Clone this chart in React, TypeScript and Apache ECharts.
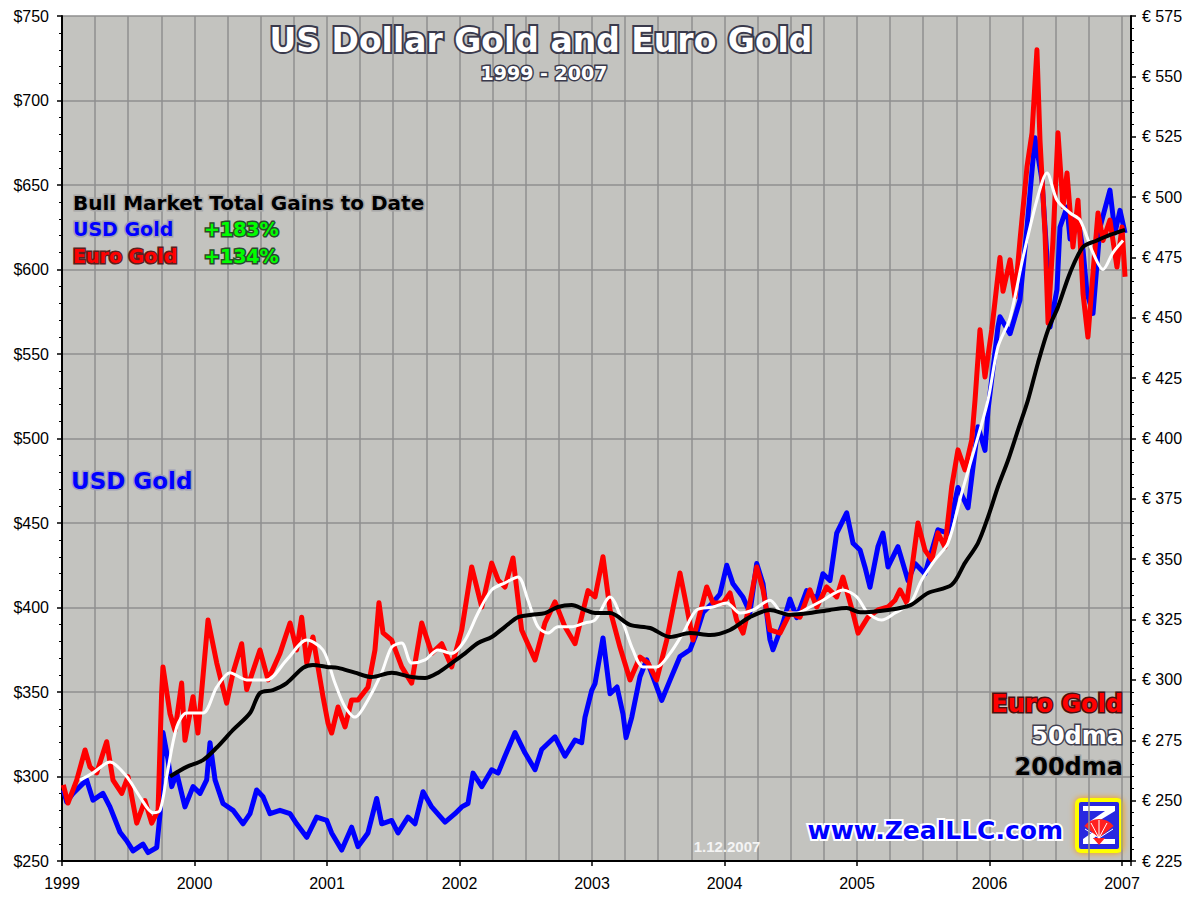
import React, { useEffect, useRef } from 'react';
import * as echarts from 'echarts';

// USD gold price ($, left axis) – [decimal year, value]
const usdGold: [number, number][] = [
  [1999.010, 292], [1999.035, 285], [1999.083, 290], [1999.186, 298], [1999.234, 286], [1999.309, 290],
  [1999.362, 282], [1999.438, 267], [1999.488, 262], [1999.536, 256], [1999.611, 260], [1999.649, 255],
  [1999.715, 258], [1999.740, 278], [1999.762, 326], [1999.800, 310], [1999.828, 294], [1999.866, 302],
  [1999.928, 282], [1999.989, 294], [2000.042, 290], [2000.092, 298], [2000.117, 320], [2000.155, 298],
  [2000.215, 284], [2000.291, 280], [2000.366, 272], [2000.419, 278], [2000.469, 292], [2000.517, 288],
  [2000.570, 278], [2000.645, 280], [2000.721, 278], [2000.771, 272], [2000.847, 264], [2000.922, 276],
  [2000.998, 274], [2001.035, 266.6], [2001.111, 256.5], [2001.186, 270], [2001.234, 258.5], [2001.309, 266.6],
  [2001.375, 287], [2001.413, 272], [2001.488, 274], [2001.536, 266.6], [2001.611, 276], [2001.664, 272],
  [2001.725, 291], [2001.790, 282], [2001.891, 273], [2001.966, 278], [2002.017, 282], [2002.064, 284],
  [2002.102, 302], [2002.168, 294], [2002.243, 304], [2002.291, 302], [2002.343, 312], [2002.419, 326],
  [2002.494, 314], [2002.570, 304], [2002.620, 316], [2002.721, 323.5], [2002.796, 312], [2002.872, 321.6],
  [2002.922, 320], [2002.947, 335], [2002.998, 351], [2003.023, 355], [2003.083, 382], [2003.136, 349],
  [2003.189, 353], [2003.234, 337], [2003.257, 323], [2003.300, 335], [2003.362, 359], [2003.413, 369],
  [2003.488, 353], [2003.526, 345], [2003.589, 357], [2003.664, 371], [2003.740, 375], [2003.790, 385],
  [2003.838, 397], [2003.913, 403], [2003.966, 408], [2004.017, 425], [2004.064, 414], [2004.140, 406],
  [2004.192, 397], [2004.243, 426], [2004.291, 414], [2004.343, 381], [2004.366, 375], [2004.442, 391],
  [2004.494, 405], [2004.545, 394], [2004.620, 410], [2004.696, 405], [2004.743, 420], [2004.796, 416],
  [2004.847, 444], [2004.922, 456], [2004.970, 438], [2005.023, 434], [2005.060, 424], [2005.098, 412],
  [2005.158, 436], [2005.196, 444], [2005.234, 424], [2005.309, 436], [2005.385, 416], [2005.438, 426],
  [2005.513, 420], [2005.611, 446], [2005.687, 444], [2005.762, 471], [2005.838, 459], [2005.913, 507],
  [2005.966, 493], [2005.989, 517], [2006.064, 566], [2006.079, 572], [2006.155, 562], [2006.230, 582],
  [2006.283, 625], [2006.343, 678], [2006.396, 653], [2006.434, 607], [2006.457, 566], [2006.509, 588],
  [2006.532, 625], [2006.585, 637], [2006.608, 618], [2006.660, 633], [2006.706, 611.5], [2006.736, 586],
  [2006.781, 574], [2006.834, 625], [2006.909, 647], [2006.947, 621.6], [2006.985, 635], [2007.023, 621.6],
];

// Euro gold price (€, right axis)
const euroGold: [number, number][] = [
  [1999.010, 256.5], [1999.045, 249], [1999.111, 258.5], [1999.174, 271], [1999.211, 264], [1999.262, 261.5],
  [1999.337, 274.4], [1999.385, 258.5], [1999.451, 253], [1999.498, 260], [1999.564, 240.7], [1999.626, 250],
  [1999.677, 240.7], [1999.725, 246], [1999.752, 294.6], [1999.762, 305.4], [1999.815, 286], [1999.853, 279],
  [1999.903, 298.7], [1999.928, 275], [1999.989, 293], [2000.026, 278], [2000.102, 324.8], [2000.168, 307],
  [2000.243, 290.4], [2000.291, 303], [2000.356, 315], [2000.394, 296], [2000.494, 312.4], [2000.555, 300],
  [2000.645, 311], [2000.721, 323.6], [2000.771, 312.4], [2000.809, 326], [2000.847, 307], [2000.894, 317.8],
  [2000.970, 293], [2001.008, 282], [2001.035, 278], [2001.083, 288.8], [2001.136, 280.5], [2001.186, 291.7],
  [2001.234, 291.7], [2001.309, 297], [2001.362, 312.4], [2001.392, 332], [2001.423, 319.5], [2001.488, 316.5],
  [2001.564, 305.4], [2001.639, 298.7], [2001.715, 323.6], [2001.790, 311], [2001.866, 315], [2001.941, 305.4],
  [2002.017, 320.7], [2002.092, 346.8], [2002.168, 330.2], [2002.243, 348.4], [2002.291, 341.4], [2002.343, 338.5],
  [2002.404, 350.5], [2002.469, 320.7], [2002.570, 308.3], [2002.645, 323.6], [2002.721, 332.3], [2002.796, 322],
  [2002.872, 315], [2002.970, 337], [2003.023, 334.4], [2003.083, 351], [2003.136, 329], [2003.211, 313.6],
  [2003.287, 300], [2003.362, 309.5], [2003.423, 307], [2003.488, 300], [2003.564, 316.5], [2003.664, 344.3],
  [2003.715, 330.2], [2003.762, 316.5], [2003.866, 338.5], [2003.913, 331.9], [2003.989, 331.9], [2004.042, 336],
  [2004.092, 324.8], [2004.140, 319.4], [2004.192, 331.9], [2004.243, 346.8], [2004.291, 337.3], [2004.343, 320.7],
  [2004.419, 319.4], [2004.494, 327.7], [2004.570, 326], [2004.645, 337.3], [2004.696, 330.2], [2004.771, 338.5],
  [2004.847, 334.4], [2004.894, 342.6], [2004.970, 327.7], [2005.008, 319.4], [2005.083, 326], [2005.158, 329],
  [2005.234, 330.2], [2005.287, 333], [2005.325, 337.3], [2005.375, 331.9], [2005.423, 349.7], [2005.460, 365],
  [2005.513, 353.8], [2005.564, 349.7], [2005.611, 360.9], [2005.664, 355], [2005.715, 380], [2005.762, 395.3],
  [2005.815, 387], [2005.866, 399.4], [2005.891, 416], [2005.928, 445], [2005.966, 425.5], [2006.017, 445],
  [2006.042, 457], [2006.079, 475], [2006.102, 461], [2006.155, 474], [2006.192, 458.6], [2006.230, 482],
  [2006.283, 512.5], [2006.321, 526.6], [2006.358, 561], [2006.381, 523.7], [2006.419, 485], [2006.442, 447.8],
  [2006.479, 482], [2006.517, 526.6], [2006.555, 496], [2006.585, 510], [2006.630, 479.3], [2006.668, 498.7],
  [2006.706, 460], [2006.743, 442], [2006.781, 468.6], [2006.819, 493.4], [2006.857, 482], [2006.909, 490.5],
  [2006.962, 471], [2007.000, 487.6], [2007.023, 467],
];

// Euro gold 50-day moving average (€)
const euro50dma: [number, number][] = [
  [1999.136, 258.5], [1999.234, 261.5], [1999.362, 266], [1999.488, 260], [1999.589, 251.5], [1999.687, 245],
  [1999.740, 246], [1999.790, 260], [1999.866, 280.5], [1999.941, 286.3], [2000.064, 286.3], [2000.168, 297],
  [2000.268, 303], [2000.394, 300], [2000.545, 300], [2000.696, 308.3], [2000.847, 316.5], [2000.970, 312.4],
  [2001.060, 298.7], [2001.136, 288.8], [2001.211, 284.6], [2001.309, 291.7], [2001.413, 303], [2001.488, 313.6],
  [2001.564, 315.3], [2001.639, 307], [2001.740, 308.3], [2001.838, 312.4], [2001.941, 311], [2002.042, 316.5],
  [2002.140, 327.7], [2002.243, 337.3], [2002.343, 340.2], [2002.442, 342.6], [2002.517, 333], [2002.592, 322],
  [2002.668, 319.4], [2002.743, 322], [2002.847, 322], [2002.947, 323.6], [2003.023, 324.8], [2003.136, 334.4],
  [2003.234, 323.6], [2003.309, 312.4], [2003.385, 305.4], [2003.488, 305.4], [2003.589, 311], [2003.687, 319.4],
  [2003.790, 329], [2003.913, 330.2], [2004.017, 331.9], [2004.117, 327.7], [2004.215, 329], [2004.343, 333],
  [2004.442, 327.7], [2004.545, 327.7], [2004.645, 330.2], [2004.743, 333], [2004.894, 337.3], [2004.998, 334.4],
  [2005.083, 327.7], [2005.186, 324.8], [2005.287, 327.7], [2005.404, 331.9], [2005.488, 341.4], [2005.589, 349.7],
  [2005.687, 356.7], [2005.790, 377.4], [2005.891, 396.5], [2005.989, 416], [2006.064, 438], [2006.155, 450],
  [2006.253, 475], [2006.358, 498.8], [2006.434, 510], [2006.509, 498.8], [2006.608, 493.4], [2006.683, 490.5],
  [2006.781, 477], [2006.857, 470], [2006.932, 477], [2007.008, 482],
];

// Euro gold 200-day moving average (€)
const euro200dma: [number, number][] = [
  [1999.815, 260], [1999.941, 264], [2000.064, 266.8], [2000.168, 272], [2000.291, 279.3], [2000.419, 286.3],
  [2000.494, 294.6], [2000.592, 295.8], [2000.696, 298.7], [2000.819, 305], [2000.894, 306.2], [2000.998, 305.4],
  [2001.083, 305], [2001.211, 303], [2001.337, 301.2], [2001.488, 303], [2001.639, 301.2], [2001.740, 300.8],
  [2001.838, 303], [2001.941, 307], [2002.042, 311], [2002.140, 315.3], [2002.243, 317.8], [2002.343, 322],
  [2002.442, 326], [2002.545, 327], [2002.645, 327.7], [2002.743, 330.2], [2002.847, 331], [2002.947, 329],
  [2003.023, 327.7], [2003.136, 327.7], [2003.287, 322.8], [2003.438, 321.5], [2003.589, 317.8], [2003.740, 319.4],
  [2003.891, 318.6], [2004.042, 320.7], [2004.192, 326], [2004.343, 329], [2004.494, 327], [2004.645, 327.7],
  [2004.796, 329], [2004.922, 329.8], [2005.023, 328], [2005.234, 329], [2005.404, 331], [2005.536, 336],
  [2005.715, 339.4], [2005.815, 348.5], [2005.913, 356.7], [2005.989, 367.5], [2006.064, 380], [2006.140, 391],
  [2006.215, 403.5], [2006.291, 416], [2006.366, 431.3], [2006.442, 445], [2006.517, 454.5], [2006.608, 468.6],
  [2006.706, 479.3], [2006.811, 482], [2006.909, 484.3], [2007.023, 486.4],
];

const yearRange = [1999, 2007.068];
const usdRange = [250, 750, 50];
const euroRange = [225, 575, 25];

const titleText = 'US Dollar Gold and Euro Gold';
const subtitleText = '1999 - 2007';
const gainsHeader = 'Bull Market Total Gains to Date';
const gainRows = [
  { label: 'USD Gold', gain: '+183%' },
  { label: 'Euro Gold', gain: '+134%' },
];
const legendRows = ['Euro Gold', '50dma', '200dma'];
const siteText = 'www.ZealLLC.com';
const dateText = '1.12.2007';

const FONT = '"DejaVu Sans", Verdana, sans-serif';
const AXIS_FONT = '"Liberation Sans", Arial, sans-serif';

function txt(text: string, x: number, y: number, fill: string, stroke: string, size: number, align = 'left', lw = 3) {
  return {
    type: 'text',
    x,
    y,
    z: 100,
    style: {
      text,
      fill,
      stroke,
      lineWidth: lw,
      font: `bold ${size}px ${FONT}`,
      align,
      verticalAlign: 'middle',
    },
  };
}

export default function App() {
  const ref = useRef<HTMLDivElement>(null);
  useEffect(() => {
    if (!ref.current) return;
    const chart = echarts.init(ref.current, undefined, { renderer: 'svg' });
    const grid = '#8f8f8f';
    const option: any = {
      animation: false,
      backgroundColor: '#ffffff',
      grid: { left: 62, right: 63, top: 16, bottom: 36, show: true, backgroundColor: '#C3C3BF', borderWidth: 0 },
      xAxis: {
        type: 'value',
        min: yearRange[0],
        max: yearRange[1],
        interval: 1,
        axisLine: { show: true, onZero: false, lineStyle: { color: '#000', width: 2 } },
        axisTick: { show: true, length: 5, lineStyle: { color: '#000', width: 1.5 } },
        minorTick: { show: false, splitNumber: 4 },
        axisLabel: {
          margin: 14,
          color: '#000',
          fontSize: 16,
          fontFamily: AXIS_FONT,
          formatter: (v: number) => (Math.abs(v - Math.round(v)) < 1e-6 ? String(Math.round(v)) : ''),
        },
        splitLine: { show: true, lineStyle: { color: grid, width: 1.5 } },
        minorSplitLine: { show: true, lineStyle: { color: grid, width: 1.5 } },
      },
      yAxis: [
        {
          type: 'value',
          position: 'left',
          min: usdRange[0],
          max: usdRange[1],
          interval: usdRange[2],
          axisLine: { show: true, onZero: false, lineStyle: { color: '#000', width: 2 } },
          axisTick: { show: true, length: 5, lineStyle: { color: '#000', width: 1.5 } },
          minorTick: { show: true, splitNumber: 5, length: 3, lineStyle: { color: '#000', width: 1 } },
          axisLabel: { margin: 13, color: '#000', fontSize: 16, fontFamily: AXIS_FONT, formatter: (v: number) => '$' + v },
          splitLine: { show: true, lineStyle: { color: grid, width: 1.5 } },
        },
        {
          type: 'value',
          position: 'right',
          min: euroRange[0],
          max: euroRange[1],
          interval: euroRange[2],
          axisLine: { show: true, onZero: false, lineStyle: { color: '#000', width: 2 } },
          axisTick: { show: true, length: 5, lineStyle: { color: '#000', width: 1.5 } },
          minorTick: { show: true, splitNumber: 5, length: 3, lineStyle: { color: '#000', width: 1 } },
          axisLabel: { margin: 11, color: '#000', fontSize: 16, fontFamily: AXIS_FONT, formatter: (v: number) => '€ ' + v },
          splitLine: { show: false },
        },
      ],
      series: [
        { name: 'USD Gold', type: 'line', yAxisIndex: 0, data: usdGold, showSymbol: false, symbol: 'none', z: 2,
          lineStyle: { color: '#0000FF', width: 5, join: 'round' } },
        { name: 'Euro Gold', type: 'line', yAxisIndex: 1, data: euroGold, showSymbol: false, symbol: 'none', z: 3,
          lineStyle: { color: '#FF0000', width: 5, join: 'round' } },
        { name: '50dma', type: 'line', yAxisIndex: 1, data: euro50dma, showSymbol: false, symbol: 'none', z: 4,
          smooth: 0.3, lineStyle: { color: '#FFFFFF', width: 3 } },
        { name: '200dma', type: 'line', yAxisIndex: 1, data: euro200dma, showSymbol: false, symbol: 'none', z: 5,
          smooth: 0.3, lineStyle: { color: '#000000', width: 4 } },
      ],
      graphic: [
        txt(titleText, 541, 40, '#FFFFFF', '#3a3a4c', 33, 'center', 4),
        txt(subtitleText, 544, 73, '#FFFFFF', '#3a3a4c', 19, 'center', 3),
        txt(gainsHeader, 73, 203, '#000000', '#a8a8a8', 20, 'left', 3),
        txt(gainRows[0].label, 73, 229, '#0000FF', '#a0a0b0', 19, 'left', 3),
        txt(gainRows[0].gain, 204, 229, '#00FF00', '#2a4a2a', 19, 'left', 3),
        txt(gainRows[1].label, 73, 256, '#FF0000', '#5a2020', 19, 'left', 3),
        txt(gainRows[1].gain, 204, 256, '#00FF00', '#2a4a2a', 19, 'left', 3),
        txt('USD Gold', 71, 481, '#0000FF', '#a0a0b8', 23, 'left', 3),
        txt(legendRows[0], 1123, 704, '#FF0000', '#4a1010', 24, 'right', 3),
        txt(legendRows[1], 1123, 736, '#FFFFFF', '#404050', 24, 'right', 3),
        txt(legendRows[2], 1123, 767, '#000000', '#a0a0a0', 24, 'right', 3),
        txt(siteText, 1063, 830, '#0000FF', '#FFFFFF', 25, 'right', 4),
        {
          type: 'text', x: 727, y: 846, z: 100,
          style: { text: dateText, fill: '#F4F4F4', font: `bold 15px ${AXIS_FONT}`, align: 'center', verticalAlign: 'middle' },
        },
        {
          type: 'group', x: 1075, y: 798, z: 100,
          children: [
            { type: 'rect', shape: { x: 0, y: 0, width: 48, height: 55, r: 6 },
              style: { fill: '#FFFF00', shadowBlur: 6, shadowColor: '#FF9900' } },
            { type: 'rect', shape: { x: 4, y: 4, width: 40, height: 47, r: 2 }, style: { fill: '#2828E0' } },
            { type: 'polygon', shape: { points: [[8, 8], [40, 8], [40, 13], [22, 24], [14, 24], [30, 13], [8, 13]] },
              style: { fill: '#FFFFFF' } },
            { type: 'polygon', shape: { points: [[8, 46], [40, 46], [40, 41], [18, 41], [26, 34], [18, 34], [8, 41]] },
              style: { fill: '#FFFFFF' } },
            { type: 'sector', shape: { cx: 24, cy: 40, r0: 0, r: 19, startAngle: -Math.PI * 0.78, endAngle: -Math.PI * 0.22 },
              style: { fill: '#FF2020' } },
            { type: 'polygon', shape: { points: [[18, 40], [30, 40], [24, 47]] }, style: { fill: '#FF2020' } },
            { type: 'line', shape: { x1: 24, y1: 40, x2: 16, y2: 25 }, style: { stroke: '#FFFFFF', lineWidth: 1 } },
            { type: 'line', shape: { x1: 24, y1: 40, x2: 24, y2: 22 }, style: { stroke: '#FFFFFF', lineWidth: 1 } },
            { type: 'line', shape: { x1: 24, y1: 40, x2: 32, y2: 25 }, style: { stroke: '#FFFFFF', lineWidth: 1 } },
            { type: 'line', shape: { x1: 24, y1: 40, x2: 10, y2: 31 }, style: { stroke: '#FFFFFF', lineWidth: 1 } },
            { type: 'line', shape: { x1: 24, y1: 40, x2: 38, y2: 31 }, style: { stroke: '#FFFFFF', lineWidth: 1 } },
          ],
        },
      ],
    };
    chart.setOption(option);
    return () => chart.dispose();
  }, []);
  return (
    <div
      ref={ref}
      style={{ position: 'absolute', left: 0, top: 0, width: 1194, height: 897, background: '#ffffff' }}
    />
  );
}
